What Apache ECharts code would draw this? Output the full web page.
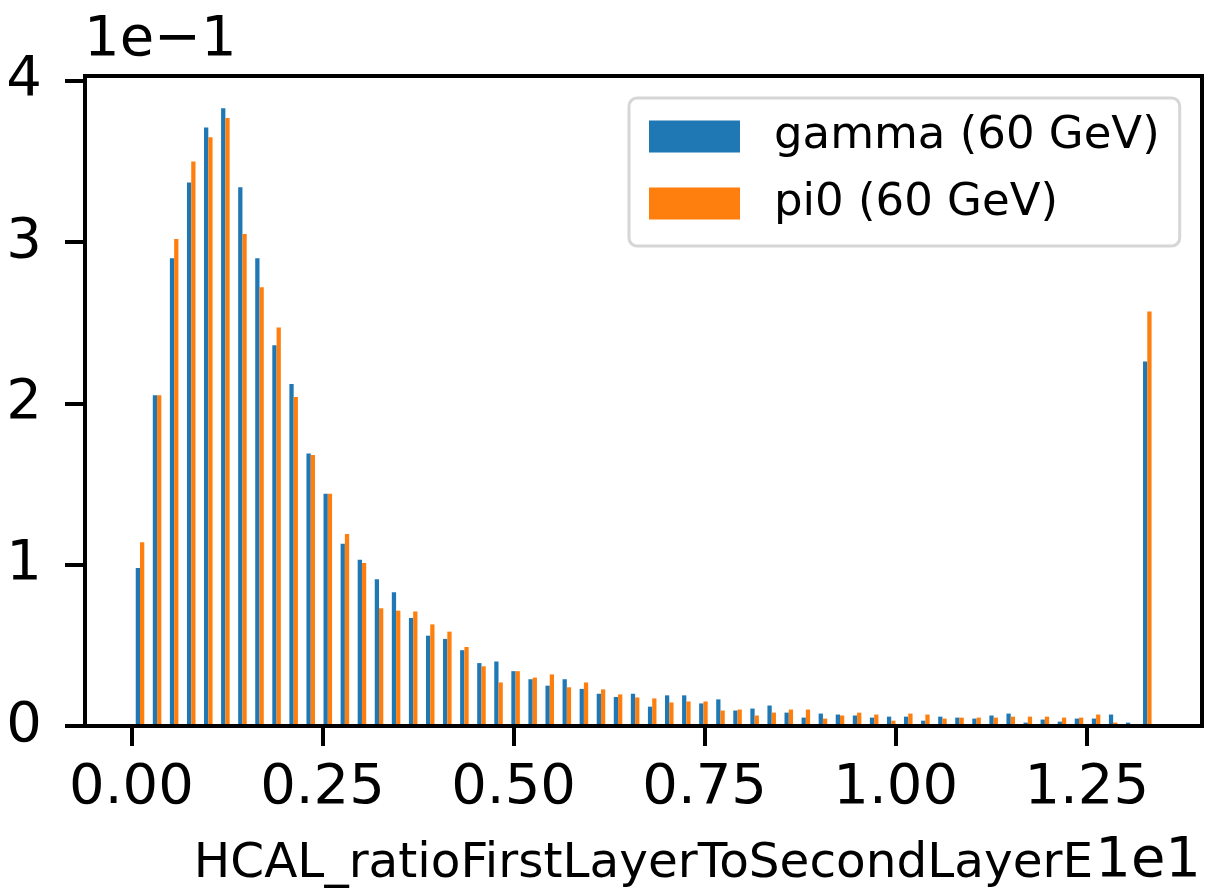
<!DOCTYPE html>
<html><head><meta charset="utf-8">
<script src="https://cdn.jsdelivr.net/npm/echarts@6/dist/echarts.min.js"></script>
<style>html,body{margin:0;padding:0;background:#fff}#c{width:1205px;height:894px}</style>
</head><body><div id="c"></div>
<script>
// Histogram binning (x shown in units of 1e1)
const binMin = 0;
const binWidth = 0.02234;
// Heights (y shown in units of 1e-1)
const gamma = [0.98, 2.05, 2.90, 3.37, 3.71, 3.83, 3.34, 2.90, 2.36, 2.12,
  1.69, 1.44, 1.13, 1.03, 0.91, 0.83, 0.67, 0.56, 0.54, 0.47,
  0.39, 0.40, 0.34, 0.29, 0.25, 0.29, 0.23, 0.20, 0.18, 0.20,
  0.12, 0.19, 0.19, 0.14, 0.165, 0.096, 0.108, 0.127, 0.083, 0.052,
  0.077, 0.071, 0.065, 0.052, 0.058, 0.058, 0.033, 0.058, 0.052, 0.046,
  0.065, 0.077, 0.021, 0.040, 0.027, 0.046, 0.046, 0.071, 0.021, 2.26];
const pi0 = [1.14, 2.05, 3.02, 3.50, 3.65, 3.77, 3.05, 2.72, 2.47, 2.04,
  1.68, 1.44, 1.19, 1.01, 0.73, 0.715, 0.71, 0.63, 0.585, 0.49,
  0.37, 0.27, 0.34, 0.30, 0.32, 0.24, 0.27, 0.227, 0.196, 0.177,
  0.171, 0.146, 0.152, 0.152, 0.096, 0.102, 0.065, 0.083, 0.102, 0.102,
  0.046, 0.065, 0.083, 0.071, 0.033, 0.077, 0.071, 0.046, 0.052, 0.052,
  0.052, 0.058, 0.058, 0.058, 0.052, 0.052, 0.071, 0.021, 0.004, 2.57];
const seriesNames = ['gamma (60 GeV)', 'pi0 (60 GeV)'];
const xTicks = [0, 0.25, 0.5, 0.75, 1.0, 1.25];
const yTicks = [0, 1, 2, 3, 4];
const xLabel = 'HCAL_ratioFirstLayerToSecondLayerE';
const xOffsetText = '1e1';
const yOffsetText = '1e\u22121';

const binCenters = gamma.map((_, i) => binMin + (i + 0.5) * binWidth);
const FONT = 'DejaVu Sans';
const chart = echarts.init(document.getElementById('c'), null, {renderer: 'canvas'});
chart.setOption({
  animation: false,
  backgroundColor: '#fff',
  grid: {left: 85, right: 3, top: 76, bottom: 168, show: true, borderColor: '#000', borderWidth: 4},
  legend: {
    orient: 'vertical', left: 629, top: 98,
    padding: [16, 20, 20, 20], itemGap: 22,
    itemWidth: 91, itemHeight: 32, icon: 'rect',
    backgroundColor: '#fff', borderColor: '#d6d6d6', borderWidth: 3, borderRadius: 8,
    textStyle: {fontFamily: FONT, fontSize: 45, color: '#000', padding: [0, 0, 0, 29]},
    data: seriesNames
  },
  xAxis: {
    type: 'value', min: -0.0608, max: 1.4008, z: 5,
    axisLine: {show: true, onZero: false, lineStyle: {color: '#000', width: 4}},
    axisTick: {show: true, length: 20, lineStyle: {color: '#000', width: 4}, customValues: xTicks},
    axisLabel: {customValues: xTicks, formatter: v => v.toFixed(2), fontFamily: FONT, fontSize: 56, color: '#000', margin: 62, verticalAlign: 'middle'},
    splitLine: {show: false},
    name: xLabel, nameLocation: 'middle', nameGap: 138,
    nameTextStyle: {fontFamily: FONT, fontSize: 48.5, color: '#000', verticalAlign: 'middle'}
  },
  yAxis: {
    type: 'value', min: 0, max: 4.03, z: 5,
    axisLine: {show: true, onZero: false, lineStyle: {color: '#000', width: 4}},
    axisTick: {show: true, length: 20, lineStyle: {color: '#000', width: 4}, customValues: yTicks},
    axisLabel: {customValues: yTicks, formatter: v => String(v), fontFamily: FONT, fontSize: 56, color: '#000', margin: 43},
    splitLine: {show: false}
  },
  graphic: [
    {type: 'text', left: 84, top: 12, style: {text: yOffsetText, font: '56px "DejaVu Sans"', fill: '#000'}},
    {type: 'text', right: 4, top: 833, style: {text: xOffsetText, font: '56px "DejaVu Sans"', fill: '#000'}}
  ],
  series: [
    {name: seriesNames[0], type: 'bar', barWidth: 4.27, barGap: '0%', itemStyle: {color: '#1f77b4'},
     data: binCenters.map((x, i) => [x, gamma[i]])},
    {name: seriesNames[1], type: 'bar', barWidth: 4.27, barGap: '0%', itemStyle: {color: '#ff7f0e'},
     data: binCenters.map((x, i) => [x, pi0[i]])}
  ]
});
</script></body></html>
